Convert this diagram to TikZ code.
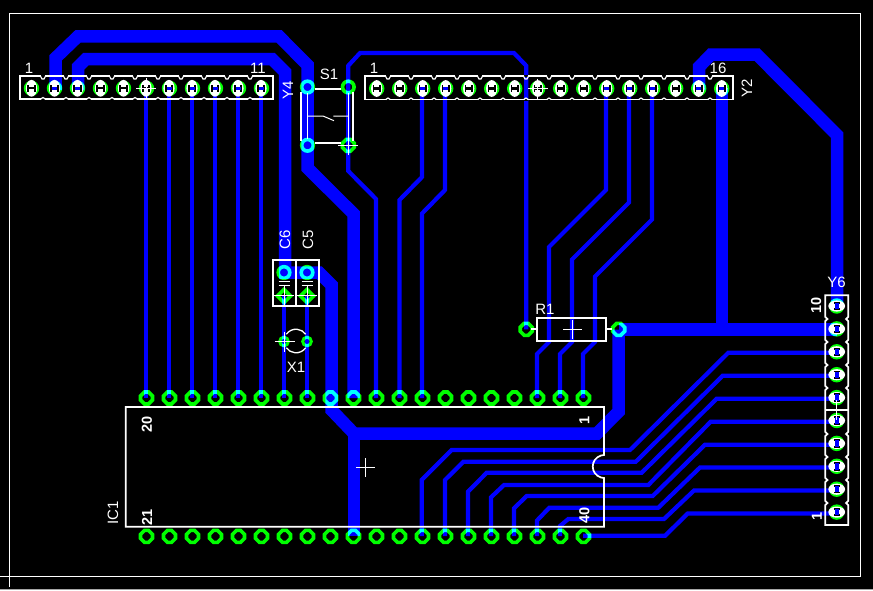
\documentclass[tikz,border=0pt]{standalone}
\usepackage{fontspec}
\setmainfont{Liberation Sans}
\definecolor{trace}{RGB}{0,0,255}
\definecolor{padg}{RGB}{0,255,0}
\tikzset{
  thick trace/.style={draw=trace,line width=12.5pt,line join=miter,miter limit=4},
  thin trace/.style={draw=trace,line width=4.2pt,line join=miter},
  silk/.style={draw=white,line width=1.7pt},
  silkthin/.style={draw=white,line width=1pt},
  lab/.style={text=white,inner sep=0pt,font=\fontsize{15}{15}\selectfont},
  pin/.style={text=white,inner sep=0pt,font=\fontsize{14.5}{15}\bfseries\selectfont},
}
% octagonal ring pad
\newcommand\octpad[2]{\draw[padg,line width=3.6pt] (#1+6,#2-2) -- (#1+6,#2+2) -- (#1+2,#2+6) -- (#1-2,#2+6) -- (#1-6,#2+2) -- (#1-6,#2-2) -- (#1-2,#2-6) -- (#1+2,#2-6) -- cycle;}
\newcommand\roundpad[2]{\draw[padg,line width=3.6pt] (#1,#2) circle (5.8);}
\newcommand\diampad[2]{\draw[padg,line width=3.6pt] (#1-6.5,#2) -- (#1,#2-6.5) -- (#1+6.5,#2) -- (#1,#2+6.5) -- cycle;}
% small cross
\newcommand\crossmark[2]{\draw[silkthin] (#1-10,#2) -- (#1+10,#2) (#1,#2-10) -- (#1,#2+10);}
% header pad, horizontal header
\newcommand\hpad[2]{%
  \fill[white] (#1,#2) ellipse (5.6 and 8.4);
  \fill[black] (#1-4.2,#2-3.2) rectangle (#1+4.2,#2+3.2);
  \fill[white] (#1-2.3,#2-3.2) rectangle (#1+2.3,#2-1.1);
  \fill[white] (#1-2.3,#2+3.2) rectangle (#1+2.3,#2+1.1);}
\newcommand\hpadb[2]{\hpad{#1}{#2}\fill[trace] (#1-2.5,#2-1.3) rectangle (#1+2.5,#2+1.3);}
\newcommand\vpad[2]{%
  \fill[white] (#1,#2) ellipse (8.4 and 5.6);
  \fill[black] (#1-3.2,#2-4.2) rectangle (#1+3.2,#2+4.2);
  \fill[white] (#1-3.2,#2-2.3) rectangle (#1-1.1,#2+2.3);
  \fill[white] (#1+3.2,#2-2.3) rectangle (#1+1.1,#2+2.3);
  \fill[trace] (#1-1.8,#2-3.2) rectangle (#1+1.8,#2+3.2);}
% notched header outlines
\newcommand\hheader[5]{% x0, step, cells, ytop, ybot
  \pgfmathtruncatemacro\lastc{#3-1}
  \draw[silk] (#1,#4) rectangle (#1+#2*#3,#5);
  \foreach \c in {1,...,\lastc}{
    \pgfmathsetmacro\bx{#1+#2*\c}
    \fill[black] (\bx-2.2,#4-1) rectangle (\bx+2.2,#4+1);
    \draw[silk,line width=1.2pt] (\bx-2.6,#4) -- (\bx-1,#4+3) -- (\bx+1,#4+3) -- (\bx+2.6,#4);
    \fill[black] (\bx-1.6,#5-1) rectangle (\bx+1.6,#5+1);
    \draw[silk,line width=1.2pt] (\bx-2.2,#5) -- (\bx,#5-1.5) -- (\bx+2.2,#5);
  }}
\begin{document}
\begin{tikzpicture}[x=1pt,y=-1pt]
\useasboundingbox (0,0) rectangle (873,590);
\fill[black] (0,0) rectangle (873,590);
\draw[gray!70,line width=0.8pt] (0,589.6) -- (873,589.6);
% board outline
\draw[silkthin] (0,576) -- (860,576) -- (860,13.3) -- (9.3,13.3) -- (9.3,587);

% thick traces
\draw[thick trace] (55.5,90) -- (55.5,58) -- (78,36.3) -- (279,36.3) -- (307.5,65) -- (307.5,168) -- (353.7,214) -- (353.7,398);
\draw[thick trace] (78,90) -- (78,67) -- (86,59) -- (272,59) -- (285,72) -- (285,272.5);
\draw[thick trace] (279,272.5) -- (319,272.5) -- (331.5,285) -- (331.5,410) -- (354,433.5) -- (597,433.5) -- (618.7,411.5) -- (618.7,329.5);
\draw[thick trace] (354,428) -- (354,536);
\draw[thick trace] (699,90) -- (699,67) -- (711,54.6) -- (757,54.6) -- (837,135) -- (837,306);
\draw[thick trace] (722,88) -- (722,329.5);
\draw[thick trace] (618.7,329.7) -- (836.7,329.7);

% thin traces
\foreach \x in {146,169,192,215,238,261}{\draw[thin trace] (\x,88) -- (\x,398);}
\foreach \x in {284,307}{\draw[thin trace] (\x,296) -- (\x,398);}
\draw[thin trace] (348.3,145) -- (348.3,65.7) -- (360,53) -- (514,53) -- (526.2,65.7) -- (526.2,329.3);
\draw[thin trace] (348.3,145) -- (348.3,171) -- (376,199) -- (376,398);
\draw[thin trace] (422,88) -- (422,177) -- (399.5,200) -- (399.5,398);
\draw[thin trace] (445,88) -- (445,190) -- (422,213.5) -- (422,398);
\draw[thin trace] (606,88) -- (606,190) -- (549,247) -- (549,342) -- (537,354) -- (537,398);
\draw[thin trace] (629,88) -- (629,202.5) -- (572,259.5) -- (572,342) -- (560,354) -- (560,398);
\draw[thin trace] (652,88) -- (652,219.5) -- (595,276.5) -- (595,342) -- (583,354) -- (583,398);
% fan to Y6
\draw[thin trace] (836.7,352.7) -- (728.3,352.7) -- (630,450) -- (451.7,450) -- (421.7,480) -- (421.7,536);
\draw[thin trace] (836.7,375.7) -- (722.7,375.7) -- (635.7,461.8) -- (463.3,461.8) -- (445,480) -- (445,536);
\draw[thin trace] (836.7,398.7) -- (716.7,398.7) -- (641.7,472.7) -- (486.7,472.7) -- (468,491.7) -- (468,536);
\draw[thin trace] (836.7,421.7) -- (710.7,421.7) -- (648.3,485) -- (504,485) -- (491,497.3) -- (491,536);
\draw[thin trace] (836.7,444.7) -- (705,444.7) -- (652.7,496) -- (526.7,496) -- (514,508.3) -- (514,536);
\draw[thin trace] (836.7,467.5) -- (700,467.5) -- (658.3,507.7) -- (549.3,507.7) -- (537,520.5) -- (537,536);
\draw[thin trace] (836.7,490.5) -- (694,490.5) -- (664,519) -- (568.3,519) -- (560,526) -- (560,536);
\draw[thin trace] (836.7,513.5) -- (687.7,513.5) -- (665,535.8) -- (583,535.8);

% copper pads, combined with the traces underneath
\begin{scope}[blend mode=screen]
\foreach \i in {0,...,19}{
  \pgfmathsetmacro\px{146.5+23*\i}
  \octpad{\px}{398}
  \octpad{\px}{536.3}
}
\roundpad{307.5}{87}\roundpad{348.3}{87}\roundpad{307.5}{145.3}\octpad{348.3}{145.3}
\roundpad{284}{272.5}\roundpad{307}{272.5}
\diampad{284}{296}\diampad{307}{296}
\octpad{526.2}{329.3}\octpad{618.7}{329.3}
\draw[padg,line width=3pt] (284,341.5) circle (4.3);
\draw[padg,line width=3pt] (307,341.5) circle (4.3);
\foreach \i in {0,...,10}{\draw[padg,line width=3pt] (31.5+23*\i,88.3) circle (6.2);}
\foreach \i in {0,...,15}{\draw[padg,line width=3pt] (376.7+23*\i,88.5) circle (6.2);}
\foreach \i in {0,...,9}{\draw[padg,line width=3pt] (836.7,306+23*\i-0.1*\i) circle (6.2);}
\end{scope}

% header pad details
\foreach \x in {31.5,100.5,123.5,146}{\hpad{\x}{88.3}}
\foreach \x in {54.5,77.5,169,192,215,238,261}{\hpadb{\x}{88.3}}
\foreach \i in {0,1,4,5,6,7,8,9,13}{\hpad{376.7+23*\i}{88.5}}
\foreach \i in {2,3,10,11,12,14,15}{\hpadb{376.7+23*\i}{88.5}}
\foreach \i in {0,...,9}{\vpad{836.7}{306+23*\i-0.1*\i}}

% silkscreen: headers
\hheader{20}{23}{11}{76}{99}
\hheader{365}{23}{16}{76}{99.5}
% Y6
\draw[silk] (825.3,295.2) -- (848.2,295.2) -- (848.2,317) -- (846,319) -- (848.2,321) -- (848.2,340) -- (846,342) -- (848.2,344) -- (848.2,363) -- (846,365) -- (848.2,367) -- (848.2,386) -- (846,388) -- (848.2,390) -- (848.2,410) -- (848.2,432) -- (846,434) -- (848.2,436) -- (848.2,455) -- (846,457) -- (848.2,459) -- (848.2,478) -- (846,480) -- (848.2,482) -- (848.2,501) -- (846,503) -- (848.2,505) -- (848.2,525) -- (825.3,525) -- (825.3,505) -- (827.5,503) -- (825.3,501) -- (825.3,482) -- (827.5,480) -- (825.3,478) -- (825.3,459) -- (827.5,457) -- (825.3,455) -- (825.3,436) -- (827.5,434) -- (825.3,432) -- (825.3,390) -- (827.5,388) -- (825.3,386) -- (825.3,367) -- (827.5,365) -- (825.3,363) -- (825.3,344) -- (827.5,342) -- (825.3,340) -- (825.3,321) -- (827.5,319) -- (825.3,317) -- cycle;
\draw[silk,line width=1.2pt] (825.3,410) -- (848.2,410);
\draw[silkthin] (836.7,400) -- (836.7,420);
% crosses
\crossmark{146}{88.3}
\crossmark{537.7}{88.5}
\crossmark{348.3}{145.3}
\crossmark{284}{295.7}
\crossmark{307}{295.7}
\crossmark{284.5}{341.5}
\draw[silkthin] (563,329) -- (582,329) (572.5,320) -- (572.5,339);
\draw[silkthin] (356,467.5) -- (375,467.5) (365.4,458) -- (365.4,477);

% S1
\draw[silk] (315,88.8) -- (341,88.8) (315,142.8) -- (341,142.8);
\draw[silk] (301,92) -- (301,140.7) (353.3,92) -- (353.3,140.7);
\draw[silkthin] (307.7,93) -- (307.7,139) (348.3,93) -- (348.3,139);
\draw[silkthin] (307.7,116) -- (323,116) -- (334,120.7) (333.3,116) -- (348.3,116);

% capacitors
\draw[silk] (272.7,260) rectangle (319.3,306) (295.8,260) -- (295.8,306);
\foreach \x in {284,307}{\draw[silk,line width=1.3pt] (\x-5.5,281.7) -- (\x+5.5,281.7) (\x-5.5,285.3) -- (\x+5.5,285.3);}

% X1
\draw[silk,line width=1.3pt] (296,341)++(215:11.8) arc[start angle=215,end angle=325,radius=11.8];
\draw[silk,line width=1.3pt] (296,341)++(35:11.8) arc[start angle=35,end angle=145,radius=11.8];

% R1
\draw[silk] (536.8,317.7) rectangle (606,341);
\draw[silk] (531,329) -- (536.8,329) (606,329) -- (612,329);

% IC
\draw[silk] (125.7,407) -- (604,407) -- (604,455) -- (601,455.5) .. controls (590,459) and (590,474) .. (601,477.5) -- (604,478) -- (604,526.7) -- (125.7,526.7) -- cycle;

% labels
\node[lab] (l1) at (29,68) {1};
\node[lab] (l11) at (258,68) {11};
\node[lab,rotate=90] (ly4) at (288,90.5) {Y4};
\node[lab] (ls1) at (329,74) {S1};
\node[lab] (l1b) at (374,68) {1};
\node[lab] (l16) at (718,68) {16};
\node[lab,rotate=90] (ly2) at (747,88) {Y2};
\node[lab,rotate=90] (lc6) at (285,240) {C6};
\node[lab,rotate=90] (lc5) at (308,240) {C5};
\node[lab] (lx1) at (296,367) {X1};
\node[lab] (lr1) at (545,309) {R1};
\node[lab] (ly6) at (836.5,282) {Y6};
\node[pin,rotate=90] (l10) at (816,305.5) {10};
\node[pin,rotate=90] (l1c) at (817,516) {1};
\node[lab,rotate=90] (lic) at (113,513) {IC1};
\node[pin,rotate=90] (l20) at (147,424.5) {20};
\node[pin,rotate=90] (l21) at (147,517) {21};
\node[pin,rotate=90] (l1d) at (584.5,420) {1};
\node[pin,rotate=90] (l40) at (584.5,515) {40};
\end{tikzpicture}
\end{document}
